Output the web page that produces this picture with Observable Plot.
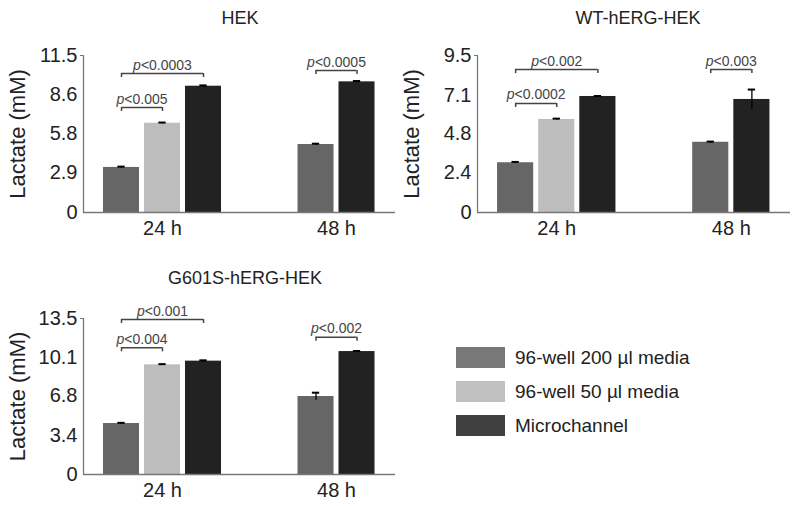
<!DOCTYPE html>
<html>
<head>
<meta charset="utf-8">
<script src="https://cdn.jsdelivr.net/npm/d3@7"></script>
<script src="https://cdn.jsdelivr.net/npm/@observablehq/plot@0.6"></script>
<style>
  html, body { margin: 0; padding: 0; background: #fff; }
  body { width: 800px; height: 506px; position: relative; overflow: hidden; font-family: "Liberation Sans", Arial, sans-serif; color: #222; }
  .panel { position: absolute; }
  .title { position: absolute; width: 300px; text-align: center; font-size: 18px; color: #222; line-height: 1; }
  #legend { position: absolute; left: 456px; top: 347px; }
  .lrow { display: flex; align-items: center; height: 21px; margin-bottom: 13px; }
  .sw { width: 49px; height: 21px; margin-right: 10px; }
  .lt { font-size: 19px; color: #222; white-space: nowrap; }
</style>
</head>
<body>
<script>
// ---- data ----
const panelTitles = ["HEK", "WT-hERG-HEK", "G601S-hERG-HEK"];
const groups = ["24 h", "48 h"];
const series = ["96-well 200 µl media", "96-well 50 µl media", "Microchannel"];
const barColors = ["#666666", "#bdbdbd", "#222222"];
const legendColors = ["#787878", "#c0c0c0", "#404040"];
const yMax = [11.5, 9.5, 13.5];
const yTickLabels = [
  [0, 2.9, 5.8, 8.6, 11.5],
  [0, 2.4, 4.8, 7.1, 9.5],
  [0, 3.4, 6.8, 10.1, 13.5]
];
const series24 = ["96-well 200 µl media", "96-well 50 µl media", "Microchannel"];
const series48 = ["96-well 200 µl media", "Microchannel"];

const hekValues24 = [3.30, 6.54, 9.25];
const hekErrors24 = [0.06, 0.05, 0.06];
const hekValues48 = [4.98, 9.57];
const hekErrors48 = [0.06, 0.06];

const wtValues24 = [3.01, 5.63, 7.02];
const wtErrors24 = [0.05, 0.05, 0.03];
const wtValues48 = [4.25, 6.84];
const wtErrors48 = [0.04, 0.60];

const g601sValues24 = [4.41, 9.49, 9.81];
const g601sErrors24 = [0.06, 0.06, 0.07];
const g601sValues48 = [6.75, 10.64];
const g601sErrors48 = [0.33, 0.05];

// significance brackets: group, from series, to series, level (mM), label
const hekBrackets = [
  {group: "24 h", from: series[0], to: series[1], level: 7.69, label: "p<0.005"},
  {group: "24 h", from: series[0], to: series[2], level: 10.18, label: "p<0.0003"},
  {group: "48 h", from: series[0], to: series[2], level: 10.40, label: "p<0.0005"}
];
const wtBrackets = [
  {group: "24 h", from: series[0], to: series[1], level: 6.60, label: "p<0.0002"},
  {group: "24 h", from: series[0], to: series[2], level: 8.65, label: "p<0.002"},
  {group: "48 h", from: series[0], to: series[2], level: 8.65, label: "p<0.003"}
];
const g601sBrackets = [
  {group: "24 h", from: series[0], to: series[1], level: 10.96, label: "p<0.004"},
  {group: "24 h", from: series[0], to: series[2], level: 13.41, label: "p<0.001"},
  {group: "48 h", from: series[0], to: series[2], level: 11.88, label: "p<0.002"}
];

// ---- layout (style, not data) ----
const panelsLayout = [
  {left: 0, top: 0, width: 400, height: 245, marginLeft: 83, marginBottom: 33, titleX: 240, titleY: 9},
  {left: 400, top: 0, width: 395, height: 245, marginLeft: 77, marginBottom: 33, titleX: 638, titleY: 9},
  {left: 0, top: 263, width: 400, height: 243, marginLeft: 83, marginBottom: 32, titleX: 245, titleY: 269}
];
const xDomain = [-0.454, 1.339];
const step = 0.2356, barW = 0.207, capHalf = 0.021;

const panelData = [
  [[hekValues24, hekErrors24], [hekValues48, hekErrors48], hekBrackets],
  [[wtValues24, wtErrors24], [wtValues48, wtErrors48], wtBrackets],
  [[g601sValues24, g601sErrors24], [g601sValues48, g601sErrors48], g601sBrackets]
];

function buildBars(p) {
  const [g24, g48] = panelData[p];
  const rows = [];
  [[series24, g24], [series48, g48]].forEach(([ser, [vals, errs]], gi) => {
    const n = ser.length;
    ser.forEach((s, k) => {
      const center = gi + (k - (n - 1) / 2) * step;
      rows.push({group: groups[gi], series: s, value: vals[k], err: errs[k], center});
    });
  });
  return rows;
}

panelTitles.forEach((title, p) => {
  const L = panelsLayout[p];
  const bars = buildBars(p);
  const centerOf = (g, s) => bars.find(b => b.group === g && b.series === s).center;
  const tip = 0.0255 * yMax[p];
  const brackets = panelData[p][2].map(b => {
    const a = centerOf(b.group, b.from), c = centerOf(b.group, b.to);
    return {...b, xa: a, xb: c, mid: (a + c) / 2};
  });
  const tips = brackets.flatMap(b => [{x: b.xa, level: b.level}, {x: b.xb, level: b.level}]);

  const chart = Plot.plot({
    width: L.width, height: L.height,
    marginLeft: L.marginLeft, marginRight: 5, marginTop: 55, marginBottom: L.marginBottom,
    x: {domain: xDomain},
    y: {domain: [0, yMax[p]]},
    color: {domain: series, range: barColors},
    style: {fontFamily: "'Liberation Sans', Arial, sans-serif", fontSize: "20px", color: "#222", background: "transparent", overflow: "visible"},
    marks: [
      Plot.rectY(bars, {x1: d => d.center - barW / 2, x2: d => d.center + barW / 2, y: "value", fill: "series"}),
      Plot.ruleX(bars, {x: "center", y1: d => d.value - d.err, y2: d => d.value + d.err, stroke: "#000", strokeWidth: 1.3}),
      Plot.ruleY(bars, {y: d => d.value + d.err, x1: d => d.center - capHalf, x2: d => d.center + capHalf, stroke: "#000", strokeWidth: 2}),
      Plot.ruleY(brackets, {y: "level", x1: "xa", x2: "xb", stroke: "#444", strokeWidth: 1.5}),
      Plot.ruleX(tips, {x: "x", y1: "level", y2: d => d.level - tip, stroke: "#444", strokeWidth: 1.5}),
      Plot.text(brackets, {x: "mid", y: "level", text: "label", dy: -4, lineAnchor: "bottom", fontSize: 14, fill: "#444"}),
      Plot.ruleY([0], {stroke: "#777", strokeWidth: 1.3}),
      Plot.ruleX([xDomain[0]], {y1: 0, y2: yMax[p], stroke: "#777", strokeWidth: 1.3}),
      Plot.axisY({ticks: yTickLabels[p], tickSize: 0, tickPadding: 6, tickFormat: d => d === 0 ? "0" : d.toFixed(1),
                  label: "Lactate (mM)", labelArrow: "none", labelAnchor: "center", labelOffset: 74, fontSize: 20}),
      Plot.axisY({ticks: [yMax[p]], tickSize: 3, tickFormat: () => "", label: null, stroke: "#777"}),
      Plot.axisX({ticks: [0, 1], tickFormat: i => groups[i], tickSize: 0, tickPadding: 8, label: null, fontSize: 20})
    ]
  });
  chart.classList.add("panel");
  chart.style.left = L.left + "px";
  chart.style.top = L.top + "px";
  chart.style.position = "absolute";
  document.body.appendChild(chart);

  chart.querySelectorAll("text").forEach(t => {
    const s = t.textContent;
    // italic "p" in significance labels
    if (s.startsWith("p<") && t.children.length === 0) {
      t.textContent = "";
      const ts = document.createElementNS("http://www.w3.org/2000/svg", "tspan");
      ts.setAttribute("font-style", "italic");
      ts.textContent = "p";
      t.appendChild(ts);
      t.appendChild(document.createTextNode(s.slice(1)));
    }
    // y-axis title: plain text, slightly larger
    if (s.includes("Lactate")) {
      t.textContent = "Lactate (mM)";
      t.setAttribute("font-size", "22");
      t.setAttribute("fill", "#222");
    }
  });

  const tdiv = document.createElement("div");
  tdiv.className = "title";
  tdiv.textContent = title;
  tdiv.style.left = (L.titleX - 150) + "px";
  tdiv.style.top = L.titleY + "px";
  document.body.appendChild(tdiv);
});

// legend
const legend = document.createElement("div");
legend.id = "legend";
series.forEach((s, i) => {
  const row = document.createElement("div");
  row.className = "lrow";
  const sw = document.createElement("div");
  sw.className = "sw";
  sw.style.background = legendColors[i];
  const lt = document.createElement("span");
  lt.className = "lt";
  lt.textContent = s;
  row.appendChild(sw);
  row.appendChild(lt);
  legend.appendChild(row);
});
document.body.appendChild(legend);
</script>
</body>
</html>
